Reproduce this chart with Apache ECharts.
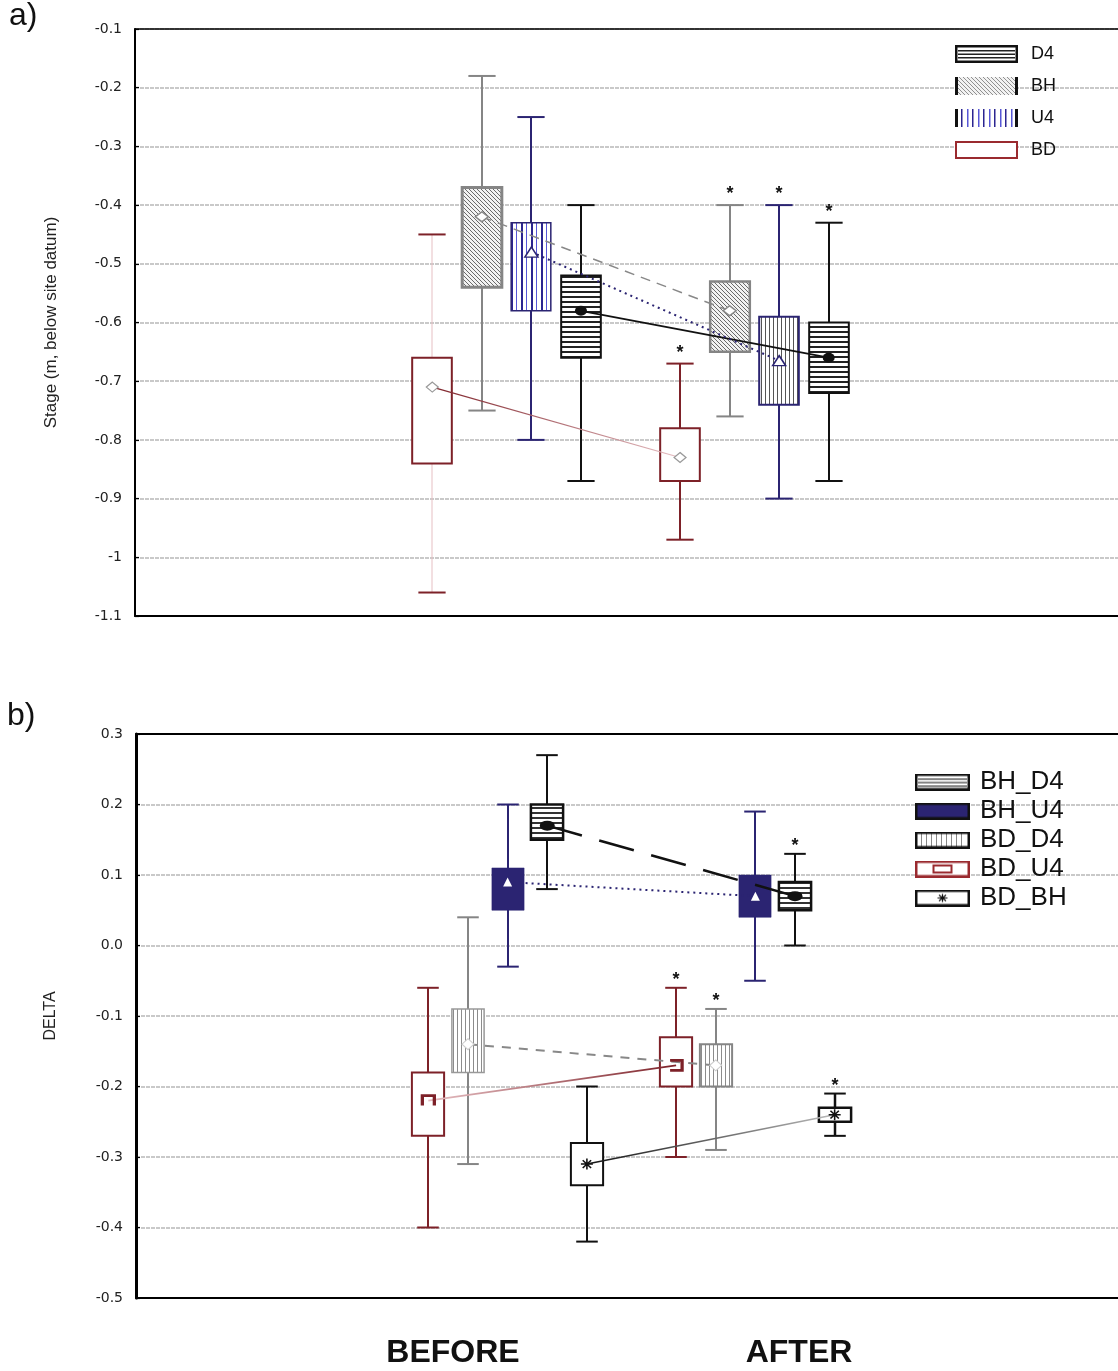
<!DOCTYPE html>
<html>
<head>
<meta charset="utf-8">
<script src="https://cdn.jsdelivr.net/npm/echarts@6/dist/echarts.min.js"></script>
<style>
html, body { margin: 0; padding: 0; background: #fff; }
#chart { width: 1118px; height: 1371px; }
</style>
</head>
<body>
<div id="chart"></div>
<script>
// ---- data ----
// x position of the two periods
var groups = ['BEFORE', 'AFTER'];
var groupX = [1, 2];
var tickCats = ['', 'BEFORE', 'AFTER', ''];

// each row: [whisker low, box low, box high, whisker high, mean], BEFORE then AFTER
var aNames = ['D4', 'BH', 'U4', 'BD'];
var aD4 = [[-0.87, -0.66, -0.52, -0.40, -0.58], [-0.87, -0.72, -0.60, -0.43, -0.66]];
var aBH = [[-0.75, -0.54, -0.37, -0.18, -0.42], [-0.76, -0.65, -0.53, -0.40, -0.58]];
var aU4 = [[-0.80, -0.58, -0.43, -0.25, -0.48], [-0.90, -0.74, -0.59, -0.40, -0.665]];
var aBD = [[-1.06, -0.84, -0.66, -0.45, -0.71], [-0.97, -0.87, -0.78, -0.67, -0.83]];
var aStars = [[0, 1], [0, 1], [0, 1], [0, 1]];
var aYRange = [-1.1, -0.1];

var bNames = ['BH_D4', 'BH_U4', 'BD_D4', 'BD_U4', 'BD_BH'];
var bBH_D4 = [[0.08, 0.15, 0.20, 0.27, 0.17], [0.00, 0.05, 0.09, 0.13, 0.07]];
var bBH_U4 = [[-0.03, 0.05, 0.11, 0.20, 0.09], [-0.05, 0.04, 0.10, 0.19, 0.07]];
var bBD_D4 = [[-0.31, -0.18, -0.09, 0.04, -0.14], [-0.29, -0.20, -0.14, -0.09, -0.17]];
var bBD_U4 = [[-0.40, -0.27, -0.18, -0.06, -0.22], [-0.30, -0.20, -0.13, -0.06, -0.17]];
var bBD_BH = [[-0.42, -0.34, -0.28, -0.20, -0.31], [-0.27, -0.25, -0.23, -0.21, -0.24]];
var bStars = [[0, 1], [0, 0], [0, 1], [0, 1], [0, 1]];
var bYRange = [-0.5, 0.3];

var aVals = [aD4, aBH, aU4, aBD];
var bVals = [bBH_D4, bBH_U4, bBD_D4, bBD_U4, bBD_BH];

// ---- layout / styles ----
var aOffset = [0.3, -0.1, 0.1, -0.3];
var bOffset = [0.16, 0, -0.16, -0.32, 0.32];

var navy = '#2b2472', brown = '#7d2128', grey = '#858585', pink = '#e6bfc3';

function tile(w, h, bg, draw) {
	var c = document.createElement('canvas');
	c.width = w; c.height = h;
	var g = c.getContext('2d');
	g.fillStyle = bg; g.fillRect(0, 0, w, h);
	draw(g, w, h);
	return c;
}
function pat(c) { return { image: c, repeat: 'repeat' }; }

var tHorz = tile(6, 5, '#fff', function (g) { g.fillStyle = '#222'; g.fillRect(0, 1, 6, 2); });
var tDiag = tile(4, 4, '#f2f2f2', function (g) {
	g.strokeStyle = '#6a6a6a'; g.lineWidth = 1; g.beginPath();
	g.moveTo(-1, -1); g.lineTo(5, 5); g.moveTo(-1, 3); g.lineTo(1, 5); g.moveTo(3, -1); g.lineTo(5, 1);
	g.stroke();
});
var tBlue = tile(10, 4, '#fff', function (g) {
	g.fillStyle = '#2b2590'; g.fillRect(1, 0, 2, 4);
	g.fillStyle = '#5757d6'; g.fillRect(6, 0, 1, 4);
});
var tGreyV = tile(4, 4, '#fff', function (g) { g.fillStyle = '#555'; g.fillRect(1, 0, 1, 4); });
var tGreyVB = tile(4, 4, '#fff', function (g) { g.fillStyle = '#8c8c8c'; g.fillRect(1, 0, 1, 4); });
var tHorzB = tile(6, 5, '#fff', function (g) { g.fillStyle = '#333'; g.fillRect(0, 2, 6, 2); });

function look(fill, stroke, sw, whisker, ww, cap) {
	return { fill: fill, stroke: stroke, sw: sw, whisker: whisker, ww: ww, cap: cap || whisker };
}
var aLooks = [
	[look(pat(tHorz), '#111', 2, '#111', 2), look(pat(tHorz), '#111', 2, '#111', 2)],
	[look(pat(tDiag), grey, 3, grey, 2), look(pat(tDiag), grey, 2.5, grey, 2)],
	[look(pat(tBlue), navy, 1.5, navy, 2), look(pat(tGreyV), navy, 2, navy, 2)],
	[look('#fff', brown, 2, pink, 1, brown), look('#fff', brown, 2, brown, 2)]
];
var bLooks = [
	[look(pat(tHorzB), '#111', 2.5, '#111', 2), look(pat(tHorzB), '#111', 2.5, '#111', 2)],
	[look(navy, navy, 0.5, navy, 2), look(navy, navy, 0.5, navy, 2)],
	[look(pat(tGreyVB), '#999', 1.5, grey, 2), look(pat(tGreyVB), grey, 2, grey, 2)],
	[look('#fff', brown, 2, brown, 2), look('#fff', brown, 2, brown, 2)],
	[look('#fff', '#111', 2, '#111', 2), look('#fff', '#111', 2.5, '#111', 2.5)]
];

var bracketDown = 'path://M0,10 L0,0 L10,0 L10,10';
var bracketLeft = 'path://M0,0 L10,0 L10,10 L0,10';
var asterisk = 'path://M5,0 L5,10 M0,5 L10,5 M1.5,1.5 L8.5,8.5 M8.5,1.5 L1.5,8.5';

function mark(symbol, size, color, border, bw) {
	return { symbol: symbol, size: size, color: color, border: border || color, bw: bw || 0 };
}
var aMarks = [
	mark('circle', [12, 10], '#111'),
	mark('diamond', [13, 10], '#fff', '#888', 1.5),
	mark('triangle', [13, 10], '#fff', navy, 1.5),
	mark('diamond', [12, 10], '#fff', '#999', 1.2)
];
var bMarks = [
	mark('circle', [15, 10], '#111'),
	mark('triangle', [9, 9], '#fff'),
	mark('diamond', [12, 11], '#fff', '#ccc', 1),
	mark([bracketDown, bracketLeft], [12, 10], 'rgba(0,0,0,0)', brown, 3),
	mark(asterisk, [12, 11], 'rgba(0,0,0,0)', '#111', 1.5)
];

function grad(c1, c2) {
	return { type: 'linear', x: 0, y: 0, x2: 1, y2: 0, colorStops: [{ offset: 0, color: c1 }, { offset: 1, color: c2 }] };
}
var aLinks = [
	{ color: '#111', width: 1.8, type: 'solid' },
	{ color: '#888', width: 1.5, type: [10, 7] },
	{ color: navy, width: 2, type: [2, 4] },
	{ color: grad(brown, pink), width: 1.2, type: 'solid' }
];
var bLinks = [
	{ color: '#111', width: 2.5, type: [36, 18] },
	{ color: navy, width: 2, type: [2, 4] },
	{ color: '#888', width: 2, type: [9, 8] },
	{ color: grad(pink, brown), width: 1.6, type: 'solid' },
	{ color: grad('#111', '#bbb'), width: 1.6, type: 'solid' }
];

// ---- legend icons ----
function icon(w, h, draw) {
	var c = tile(w, h, '#fff', draw);
	return 'image://' + c.toDataURL();
}
function frame(g, w, h, col, lw) { g.strokeStyle = col; g.lineWidth = lw; g.strokeRect(lw / 2, lw / 2, w - lw, h - lw); }
function bars(g, w, h) { g.fillStyle = '#111'; g.fillRect(0, 0, 3, h); g.fillRect(w - 3, 0, 3, h); }

var aIcons = [
	icon(63, 18, function (g, w, h) {
		g.fillStyle = '#222'; [5, 8.5, 12].forEach(function (y) { g.fillRect(3, y, w - 6, 1.5); });
		frame(g, w, h, '#111', 2.5);
	}),
	icon(63, 18, function (g, w, h) {
		g.fillStyle = g.createPattern(tile(4, 4, '#f2f2f2', function (q) {
			q.strokeStyle = '#909090'; q.beginPath(); q.moveTo(-1, -1); q.lineTo(5, 5);
			q.moveTo(-1, 3); q.lineTo(1, 5); q.moveTo(3, -1); q.lineTo(5, 1); q.stroke();
		}), 'repeat');
		g.fillRect(0, 0, w, h); bars(g, w, h);
	}),
	icon(63, 18, function (g, w, h) {
		for (var x = 6, k = 0; x < w - 4; x += 5.5, k++) {
			g.fillStyle = k % 2 ? '#5757d6' : '#2b2590'; g.fillRect(Math.round(x), 0, 1.5, h);
		}
		bars(g, w, h);
	}),
	icon(63, 18, function (g, w, h) { frame(g, w, h, '#9a2a2f', 2); })
];
var bIcons = [
	icon(55, 17, function (g, w, h) {
		g.fillStyle = '#333'; [5, 8.5, 12].forEach(function (y) { g.fillRect(3, y, w - 6, 1.2); });
		frame(g, w, h, '#111', 2.5);
	}),
	icon(55, 17, function (g, w, h) { g.fillStyle = navy; g.fillRect(0, 0, w, h); frame(g, w, h, '#111', 2.5); }),
	icon(55, 17, function (g, w, h) {
		g.fillStyle = '#888'; for (var x = 6; x < w - 4; x += 5) g.fillRect(x, 2, 1, h - 4);
		frame(g, w, h, '#111', 2.5);
	}),
	icon(55, 17, function (g, w, h) {
		frame(g, w, h, '#9a2a2f', 2.5);
		g.strokeStyle = '#9a2a2f'; g.lineWidth = 2; g.strokeRect(w / 2 - 9, h / 2 - 3.5, 18, 7);
	}),
	icon(55, 17, function (g, w, h) {
		frame(g, w, h, '#111', 2.5);
		var cx = w / 2, cy = h / 2; g.strokeStyle = '#111'; g.lineWidth = 1.2; g.beginPath();
		g.moveTo(cx, cy - 4); g.lineTo(cx, cy + 4); g.moveTo(cx - 5, cy); g.lineTo(cx + 5, cy);
		g.moveTo(cx - 3.5, cy - 3); g.lineTo(cx + 3.5, cy + 3); g.moveTo(cx + 3.5, cy - 3); g.lineTo(cx - 3.5, cy + 3);
		g.stroke();
	})
];

// ---- box renderer ----
function boxRender(looks, boxW, capW, starGap) {
	return function (params, api) {
		var st = looks[params.dataIndex];
		var x = api.value(0);
		var wl = api.coord([x, api.value(1)]);
		var bl = api.coord([x, api.value(2)]);
		var bh = api.coord([x, api.value(3)]);
		var wh = api.coord([x, api.value(4)]);
		var half = api.size([boxW, 0])[0] / 2;
		var cap = api.size([capW, 0])[0] / 2;
		var cx = Math.round(wl[0]);
		var kids = [
			{ type: 'line', shape: { x1: cx, y1: wl[1], x2: cx, y2: wh[1] }, style: { stroke: st.whisker, lineWidth: st.ww } },
			{ type: 'line', shape: { x1: cx - cap, y1: wl[1], x2: cx + cap, y2: wl[1] }, style: { stroke: st.cap, lineWidth: 2 } },
			{ type: 'line', shape: { x1: cx - cap, y1: wh[1], x2: cx + cap, y2: wh[1] }, style: { stroke: st.cap, lineWidth: 2 } },
			{ type: 'rect', shape: { x: cx - half, y: bh[1], width: half * 2, height: bl[1] - bh[1] },
				style: { fill: st.fill, stroke: st.stroke, lineWidth: st.sw } }
		];
		if (api.value(5)) {
			kids.push({ type: 'text', x: cx, y: wh[1] - starGap,
				style: { text: '*', fill: '#111', font: 'bold 18px "Liberation Sans", Arial, sans-serif', align: 'center', verticalAlign: 'middle' } });
		}
		return { type: 'group', children: kids };
	};
}

var series = [];
function addPanel(names, vals, stars, offsets, looks, marks, links, gi, boxW, capW, starGap) {
	names.forEach(function (name, s) {
		var v = vals[s];
		var xs = groupX.map(function (gx) { return gx + offsets[s]; });
		series.push({
			type: 'custom', name: name, xAxisIndex: gi * 3, yAxisIndex: gi, z: 2, silent: true,
			renderItem: boxRender(looks[s], boxW, capW, starGap),
			encode: { x: 0, y: [1, 2, 3, 4] },
			data: v.map(function (r, g) { return [xs[g], r[0], r[1], r[2], r[3], stars[s][g]]; })
		});
		series.push({
			type: 'line', name: name + ' mean line', xAxisIndex: gi * 3, yAxisIndex: gi, z: 3, silent: true,
			symbol: 'none', animation: false,
			lineStyle: { color: links[s].color, width: links[s].width, type: links[s].type },
			data: v.map(function (r, g) { return [xs[g], r[4]]; })
		});
		var m = marks[s];
		series.push({
			type: 'scatter', name: name + ' mean', xAxisIndex: gi * 3, yAxisIndex: gi, z: 4, silent: true,
			symbolSize: m.size,
			itemStyle: { color: m.color, borderColor: m.border, borderWidth: m.bw, opacity: 1 },
			data: v.map(function (r, g) {
				return { value: [xs[g], r[4]], symbol: Array.isArray(m.symbol) ? m.symbol[g] : m.symbol };
			})
		});
	});
}
addPanel(aNames, aVals, aStars, aOffset, aLooks, aMarks, aLinks, 0, 0.16, 0.11, 11);
addPanel(bNames, bVals, bStars, bOffset, bLooks, bMarks, bLinks, 1, 0.13, 0.087, 8);

var font = '"Liberation Sans", Arial, sans-serif';

function xAxes(gi, lineW) {
	return [
		{ type: 'value', gridIndex: gi, min: -0.5, max: 3.5, show: false },
		{ type: 'category', gridIndex: gi, position: 'bottom', data: tickCats, boundaryGap: true,
			axisLine: { onZero: false, lineStyle: { color: '#000', width: 2 } },
			axisTick: { inside: true, alignWithLabel: true, length: 4, lineStyle: { color: '#000', width: 1.5 } },
			axisLabel: { show: false }, splitLine: { show: false } },
		{ type: 'category', gridIndex: gi, position: 'top', data: tickCats, boundaryGap: true,
			axisLine: { onZero: false, lineStyle: { color: '#000', width: lineW } },
			axisTick: { inside: true, alignWithLabel: true, length: 4, lineStyle: { color: '#000', width: 1.5 } },
			axisLabel: { show: false }, splitLine: { show: false } }
	];
}
function yAxis(gi, range, name, gap, fmt, lw) {
	return {
		type: 'value', gridIndex: gi, min: range[0], max: range[1], interval: 0.1,
		name: name, nameLocation: 'middle', nameRotate: 90, nameGap: gap,
		nameTextStyle: { fontFamily: font, fontSize: gi ? 16 : 17, color: '#222' },
		axisLine: { show: true, onZero: false, lineStyle: { color: '#000', width: lw } },
		axisTick: { show: true, inside: true, length: 4, lineStyle: { color: '#000', width: 1.2 } },
		axisLabel: { margin: 13, fontFamily: '"DejaVu Sans", sans-serif', fontSize: 14, color: '#222', formatter: fmt },
		splitLine: { show: true, lineStyle: { color: '#b8b8b8', width: 1.5, type: [4, 1] } }
	};
}

var chart = echarts.init(document.getElementById('chart'), null, { renderer: 'canvas' });
chart.setOption({
	animation: false,
	backgroundColor: '#fff',
	grid: [
		{ left: 135, top: 29, right: -8, height: 587, outerBoundsMode: 'none', containLabel: false },
		{ left: 136, top: 734, right: -9, height: 564, outerBoundsMode: 'none', containLabel: false }
	],
	xAxis: xAxes(0, 1.5).concat(xAxes(1, 2)),
	yAxis: [
		yAxis(0, aYRange, 'Stage (m, below site datum)', 75, function (v) { return String(+v.toFixed(2)); }, 2),
		yAxis(1, bYRange, 'DELTA', 77, function (v) { return (Math.abs(v) < 1e-9 ? 0 : v).toFixed(1); }, 3)
	],
	legend: [
		{ left: 955, top: 44, padding: 0, orient: 'vertical', itemWidth: 63, itemHeight: 18, itemGap: 12,
			selectedMode: false,
			textStyle: { fontFamily: font, fontSize: 18, lineHeight: 18, color: '#111', padding: [2, 0, 0, 8] },
			data: aNames.map(function (n, i) { return { name: n, icon: aIcons[i] }; }) },
		{ left: 915, top: 767.5, padding: 0, orient: 'vertical', itemWidth: 55, itemHeight: 17, itemGap: 0,
			selectedMode: false,
			textStyle: { fontFamily: font, fontSize: 26, lineHeight: 24, color: '#111', padding: [5, 0, 0, 5] },
			data: bNames.map(function (n, i) { return { name: n, icon: bIcons[i] }; }) }
	],
	graphic: [
		{ type: 'text', x: 9, y: 0, style: { text: 'a)', font: '32px ' + font, fill: '#111', verticalAlign: 'top' } },
		{ type: 'text', x: 7, y: 700, style: { text: 'b)', font: '32px ' + font, fill: '#111', verticalAlign: 'top' } },
		{ type: 'text', x: 453, y: 1337, style: { text: groups[0], font: 'bold 32px ' + font, fill: '#111', align: 'center', verticalAlign: 'top' } },
		{ type: 'text', x: 799, y: 1337, style: { text: groups[1], font: 'bold 32px ' + font, fill: '#111', align: 'center', verticalAlign: 'top' } }
	],
	series: series
});
</script>
</body>
</html>
